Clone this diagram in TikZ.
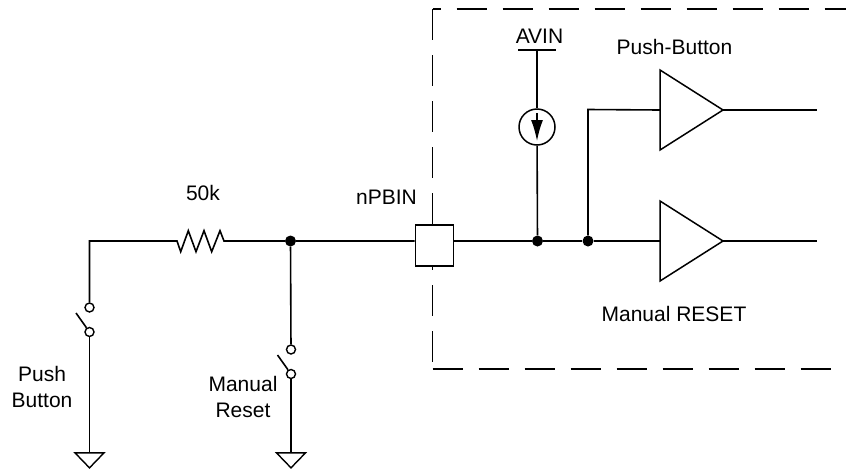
\documentclass[tikz,border=0pt]{standalone}
\usepackage{fontspec}
\setmainfont{Liberation Sans}
\usetikzlibrary{positioning,shapes.geometric,arrows.meta}

\tikzset{
  wire/.style={line width=1.6pt},
  dot/.style={circle, fill=black, inner sep=0pt, minimum size=11pt},
  contact/.style={circle, draw, line width=1.4pt, fill=white, inner sep=0pt, minimum size=9pt},
  gnd/.style={isosceles triangle, isosceles triangle stretches, shape border rotate=270,
    draw, line width=1.4pt, inner sep=0pt, outer sep=0pt, minimum width=29pt, minimum height=15pt},
  amp/.style={isosceles triangle, isosceles triangle stretches, draw, line width=1.5pt,
    inner sep=0pt, outer sep=0pt, minimum width=80pt, minimum height=63pt},
  frame/.style={line width=1.5pt, dash pattern=on 30.5pt off 15.5pt},
  label/.style={font=\fontsize{21}{26.5}\selectfont, align=center, inner sep=0pt}
}

\begin{document}
\begin{tikzpicture}[x=1pt, y=-1pt, on grid, every path/.style={line join=miter}]
    \useasboundingbox (0,0) rectangle (846,472);

    % dashed chip outline
    \coordinate (f_tl) at (432.5,9);
    \coordinate (f_tr) at (846,9);
    \coordinate (f_bl) at (432.5,369);
    \coordinate (f_br) at (846,369);
    \draw[frame, dash phase=21.8pt] (f_tl) -- (f_tr);
    \draw[frame] (f_tl) -- (f_bl);
    \draw[frame] (f_bl) -- (f_br);

    % input line
    \coordinate (corner) at (89.5,241);
    \coordinate (r_a) at (177,241);
    \coordinate (r_b) at (224,241);
    \node[dot] (dot_a) at (290.5,241) {};
    \node[draw, fill=white, line width=1.6pt, inner sep=0pt, minimum width=38pt, minimum height=41pt]
      (pin) at (434.5,245.5) {};
    \node[dot] (dot_b) at (537.5,241) {};
    \node[dot] (dot_c) at (588,241) {};
    \node[amp] (amp_a) at (682,110) {};
    \node[amp] (amp_b) at (682,241) {};
    \coordinate (out_a) at (817,110);
    \coordinate (out_b) at (817,241);

    % switches
    \node[contact] (sw_a) at (89.5,307.5) {};
    \node[contact] (sw_b) [below=24.5pt of sw_a] {};
    \node[gnd] (gnd_a) at (89.5,459) {};
    \coordinate (lev_a) at (76,313);
    \node[contact] (sw_c) at (291,349.5) {};
    \node[contact] (sw_d) [below=24.5pt of sw_c] {};
    \node[gnd] (gnd_b) at (291,459) {};
    \coordinate (lev_b) at (277.5,355);

    % current source
    \node[circle, draw, line width=1.5pt, inner sep=0pt, minimum size=36pt] (src) at (537,127) {};
    \coordinate (bar_l) at (518,50);
    \coordinate (bar_m) at (537,50);
    \coordinate (bar_r) at (556,50);
    \coordinate (src_top) at ([yshift=-5pt]src.north);
    \coordinate (src_tip) at ([yshift=-14pt]src.center);
    \coordinate (tap) at (588,109.5);

    \draw[wire] (sw_a) -- (corner) -- (r_a)
      -- ++(3.7,10.7) -- ++(7.6,-21) -- ++(7.7,21) -- ++(8,-21) -- ++(7.7,21) -- ++(8.3,-21) -- (r_b)
      -- (dot_a) -- (pin.west |- dot_a);
    \draw[wire] (pin.east |- dot_a) -- (dot_b) -- (dot_c) -- (amp_b.lower side);
    \draw[wire] (sw_b) -- (gnd_a.lower side);
    \draw[wire] (lev_a) -- (sw_b);
    \draw[wire] (dot_a) -- (sw_c);
    \draw[wire] (sw_d) -- (gnd_b.lower side);
    \draw[wire] (lev_b) -- (sw_d);
    \draw[wire] (bar_l) -- (bar_r);
    \draw[wire] (bar_m) -- (src);
    \draw[wire] (src) -- (dot_b);
    \draw[wire, -{Latex[length=21pt, width=12pt]}] (src_top) -- (src_tip);
    \draw[wire] (dot_c) -- (tap) -- (amp_a.lower side);
    \draw[wire] (amp_a.apex) -- (out_a);
    \draw[wire] (amp_b.apex) -- (out_b);

    % labels
    \node[label] (l_r) at (203,193) {50k};
    \node[label] (l_pin) at (386.5,197) {nPBIN};
    \node[label] (l_avin) at (539.5,36) {AVIN};
    \node[label] (l_pb) at (674.5,47) {Push-Button};
    \node[label] (l_mr) at (674,314) {Manual RESET};
    \node[label] (l_push) at (42,387) {Push\\Button};
    \node[label] (l_man) at (243,397) {Manual\\Reset};
\end{tikzpicture}
\end{document}
